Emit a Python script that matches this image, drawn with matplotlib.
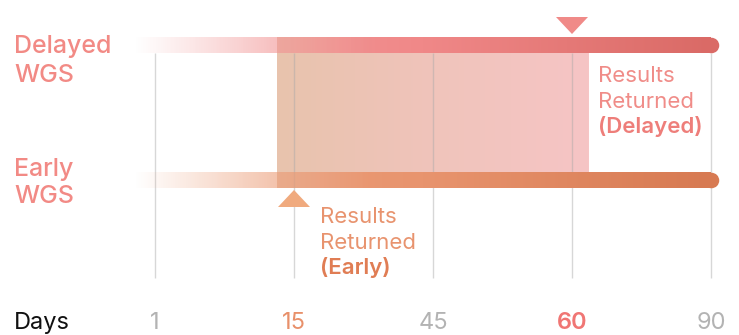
import numpy as np
import matplotlib.pyplot as plt
from matplotlib.colors import to_rgb
from matplotlib.patches import Polygon
from matplotlib.transforms import blended_transform_factory

plt.rcParams['font.family'] = ['Inter', 'DejaVu Sans']

# timeline ticks (evenly spaced, not to scale)
days = [1, 15, 45, 60, 90]
day_colors = ['#b3b3b3', '#e8906a', '#b3b3b3', '#f07674', '#b3b3b3']
day_weights = ['normal', 'normal', 'normal', 'semibold', 'normal']

arms = [['Delayed', 'WGS'], ['Early', 'WGS']]
returned_day = [60, 15]
returned_note = [['Results', 'Returned', '(Delayed)'], ['Results', 'Returned', '(Early)']]
bar_start_day = -1
bar_end_day = 90
window_days = [13.3, 63.5]

bar_colors = [['#f4a0a0', '#f08888', '#da6a66'],
              ['#eea27c', '#e8946e', '#d77a52']]
marker_colors = ['#f08a88', '#f0aa7e']
note_colors = ['#f08c88', '#e8936e']
note_bold_colors = ['#ee7e7a', '#e07d54']
label_color = '#f28a85'
window_colors = ['#e8c3ad', '#f0c4bb', '#f6c5c5']

idx = np.arange(len(days))


def day_pos(d):
    d = np.asarray(d, dtype=float)
    inner = np.interp(d, days, idx)
    lo = (d - days[0]) / (days[1] - days[0])
    hi = idx[-1] + (d - days[-1]) / (days[-1] - days[-2])
    return np.where(d < days[0], lo, np.where(d > days[-1], hi, inner))


def hgrad(stops, n=400):
    rgb = np.array([to_rgb(c) for c in stops])
    t = np.linspace(0, 1, n)
    tp = np.linspace(0, 1, len(stops))
    return np.stack([np.interp(t, tp, rgb[:, k]) for k in range(3)], axis=-1)


W, H = 739, 335
fig = plt.figure(figsize=(W / 100, H / 100), dpi=100)
ax = fig.add_axes([0, 0, 1, 1])
x0_px, step_px = 155, 139
ax.set_xlim(-x0_px / step_px, (W - x0_px) / step_px)
ax.set_ylim(H, 0)
ax.axis('off')
trans = blended_transform_factory(ax.transAxes, ax.transData)

row_y = [45, 180]
bar_h = 16
px = 1 / step_px

# shaded window between the two result dates
w0, w1 = day_pos(window_days)
win = hgrad(window_colors, 320)[None, :, :]
ax.imshow(win, extent=(w0, w1, row_y[1] + bar_h / 2, row_y[0] - bar_h / 2),
          aspect='auto', interpolation='nearest', zorder=1)

# grid
ax.vlines(idx, row_y[0] + bar_h / 2, 278, color='#a8a8a8', alpha=0.45, lw=1, zorder=2)

# gradient bars, fading in from the left, round cap on the right
xs, xe = day_pos(bar_start_day), day_pos(bar_end_day)
fade_end = 1.56
n = 600
xx = np.linspace(xs, xe, n)
alpha = np.clip((xx - xs) / (fade_end - xs), 0, 1)
for y, cols in zip(row_y, bar_colors):
    rgba = np.concatenate([hgrad(cols, n), alpha[:, None]], axis=1)[None, :, :]
    ax.imshow(rgba, extent=(xs, xe, y + bar_h / 2, y - bar_h / 2),
              aspect='auto', interpolation='nearest', zorder=3)
    ax.plot(xe, y, 'o', ms=(bar_h - 0.5) * 0.72, color=cols[-1], mec='none', zorder=3)

# result markers
tri_w, tri_h, gap = 16, 17, 3
d_x = float(day_pos(returned_day[0]))
tip = row_y[0] - bar_h / 2 - gap
ax.add_patch(Polygon([(d_x - tri_w * px, tip - tri_h), (d_x + tri_w * px, tip - tri_h), (d_x, tip)],
                     closed=True, fc=marker_colors[0], ec='none', zorder=4))
e_x = float(day_pos(returned_day[1]))
tip = row_y[1] + bar_h / 2 + gap - 1
ax.add_patch(Polygon([(e_x - tri_w * px, tip + tri_h), (e_x + tri_w * px, tip + tri_h), (e_x, tip)],
                     closed=True, fc=marker_colors[1], ec='none', zorder=4))

# arm labels
for lines, bases in zip(arms, [[53, 82], [176, 203]]):
    for s, b in zip(lines, bases):
        ax.text(14 / W, b, s, transform=trans, fontsize=18, fontweight='medium',
                color=label_color, va='baseline', ha='left')

# result notes
for k, (lines, x_px, bases) in enumerate(zip(returned_note, [598, 320],
                                             [[82, 108, 133], [223, 249, 274]])):
    for j, (s, b) in enumerate(zip(lines, bases)):
        bold = j == len(lines) - 1
        ax.text(x_px / W, b, s, transform=trans, fontsize=16,
                fontweight='semibold' if bold else 'normal',
                color=note_bold_colors[k] if bold else note_colors[k],
                va='baseline', ha='left')

# axis labels
ax.text(14 / W, 329, 'Days', transform=trans, fontsize=17, color='#111111',
        va='baseline', ha='left')
for i, d in enumerate(days):
    ax.text(idx[i], 329, str(d), fontsize=17, color=day_colors[i],
            fontweight=day_weights[i], va='baseline', ha='center')

fig.savefig('out.png', dpi=100)
